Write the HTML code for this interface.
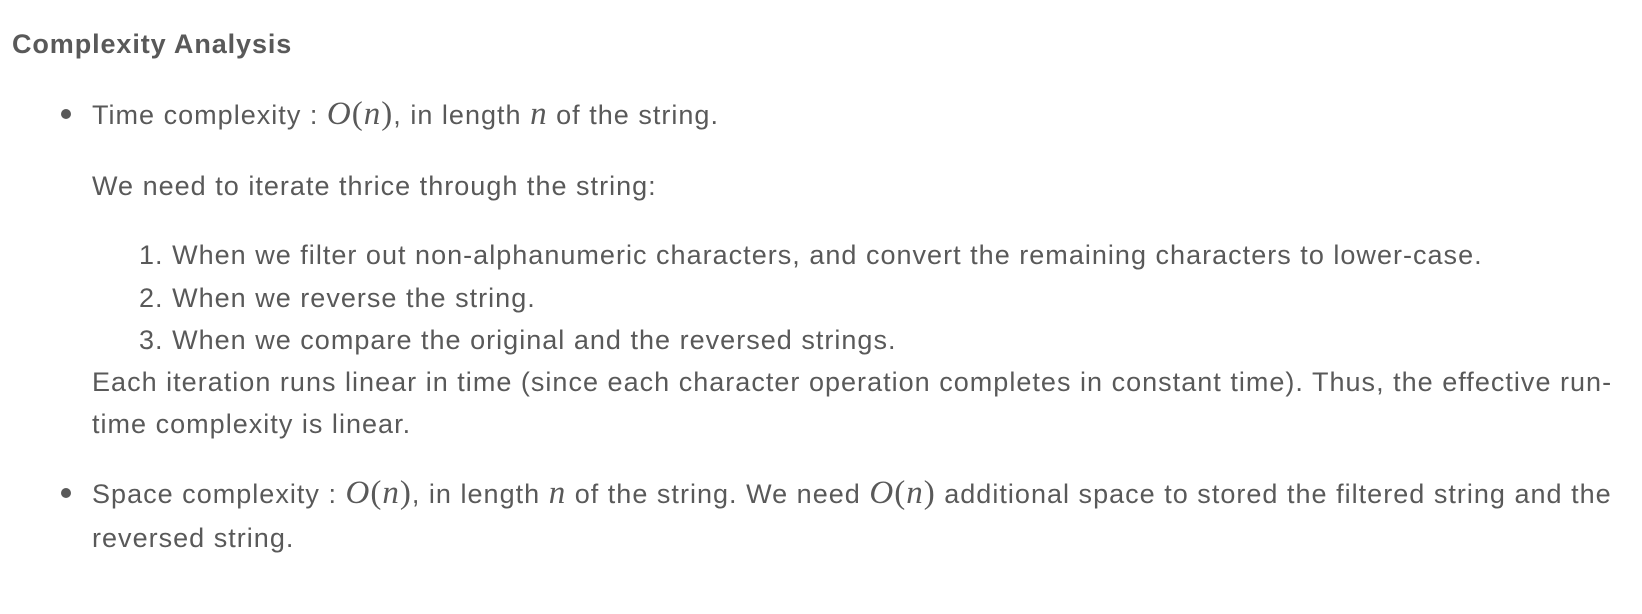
<!DOCTYPE html>
<html><head><meta charset="utf-8"><style>
body{margin:0;width:1642px;height:614px;background:#fff;overflow:hidden;font-family:"Liberation Sans",sans-serif;color:#595959;font-size:27px;letter-spacing:1.02px}
.l{position:absolute;white-space:nowrap;line-height:42px;height:42px}
.m{font-family:"Liberation Serif",serif;font-style:italic;font-size:33px;letter-spacing:1px}
.p{font-family:"Liberation Serif",serif;font-size:33px}
.dot{position:absolute;width:10px;height:10px;border-radius:50%;background:#595959}
</style></head><body>
<div class="l" style="left:12px;top:23px;font-weight:bold;letter-spacing:0.9px">Complexity Analysis</div>
<div class="dot" style="left:61px;top:109px"></div>
<div class="l" style="left:92px;top:93px">Time complexity : <span class="m">O</span><span class="p">(</span><span class="m">n</span><span class="p">)</span>, in length <span class="m">n</span> of the string.</div>
<div class="l" style="left:92px;top:165px">We need to iterate thrice through the string:</div>
<div class="l" style="left:139px;top:234px">1. When we filter out non-alphanumeric characters, and convert the remaining characters to lower-case.</div>
<div class="l" style="left:139px;top:277px">2. When we reverse the string.</div>
<div class="l" style="left:139px;top:319px">3. When we compare the original and the reversed strings.</div>
<div class="l" style="left:92px;top:361px">Each iteration runs linear in time (since each character operation completes in constant time). Thus, the effective run-</div>
<div class="l" style="left:92px;top:403px">time complexity is linear.</div>
<div class="dot" style="left:61px;top:488px"></div>
<div class="l" style="left:92px;top:472px">Space complexity : <span class="m">O</span><span class="p">(</span><span class="m">n</span><span class="p">)</span>, in length <span class="m">n</span> of the string. We need <span class="m">O</span><span class="p">(</span><span class="m">n</span><span class="p">)</span> additional space to stored the filtered string and the</div>
<div class="l" style="left:92px;top:517px">reversed string.</div>
</body></html>
